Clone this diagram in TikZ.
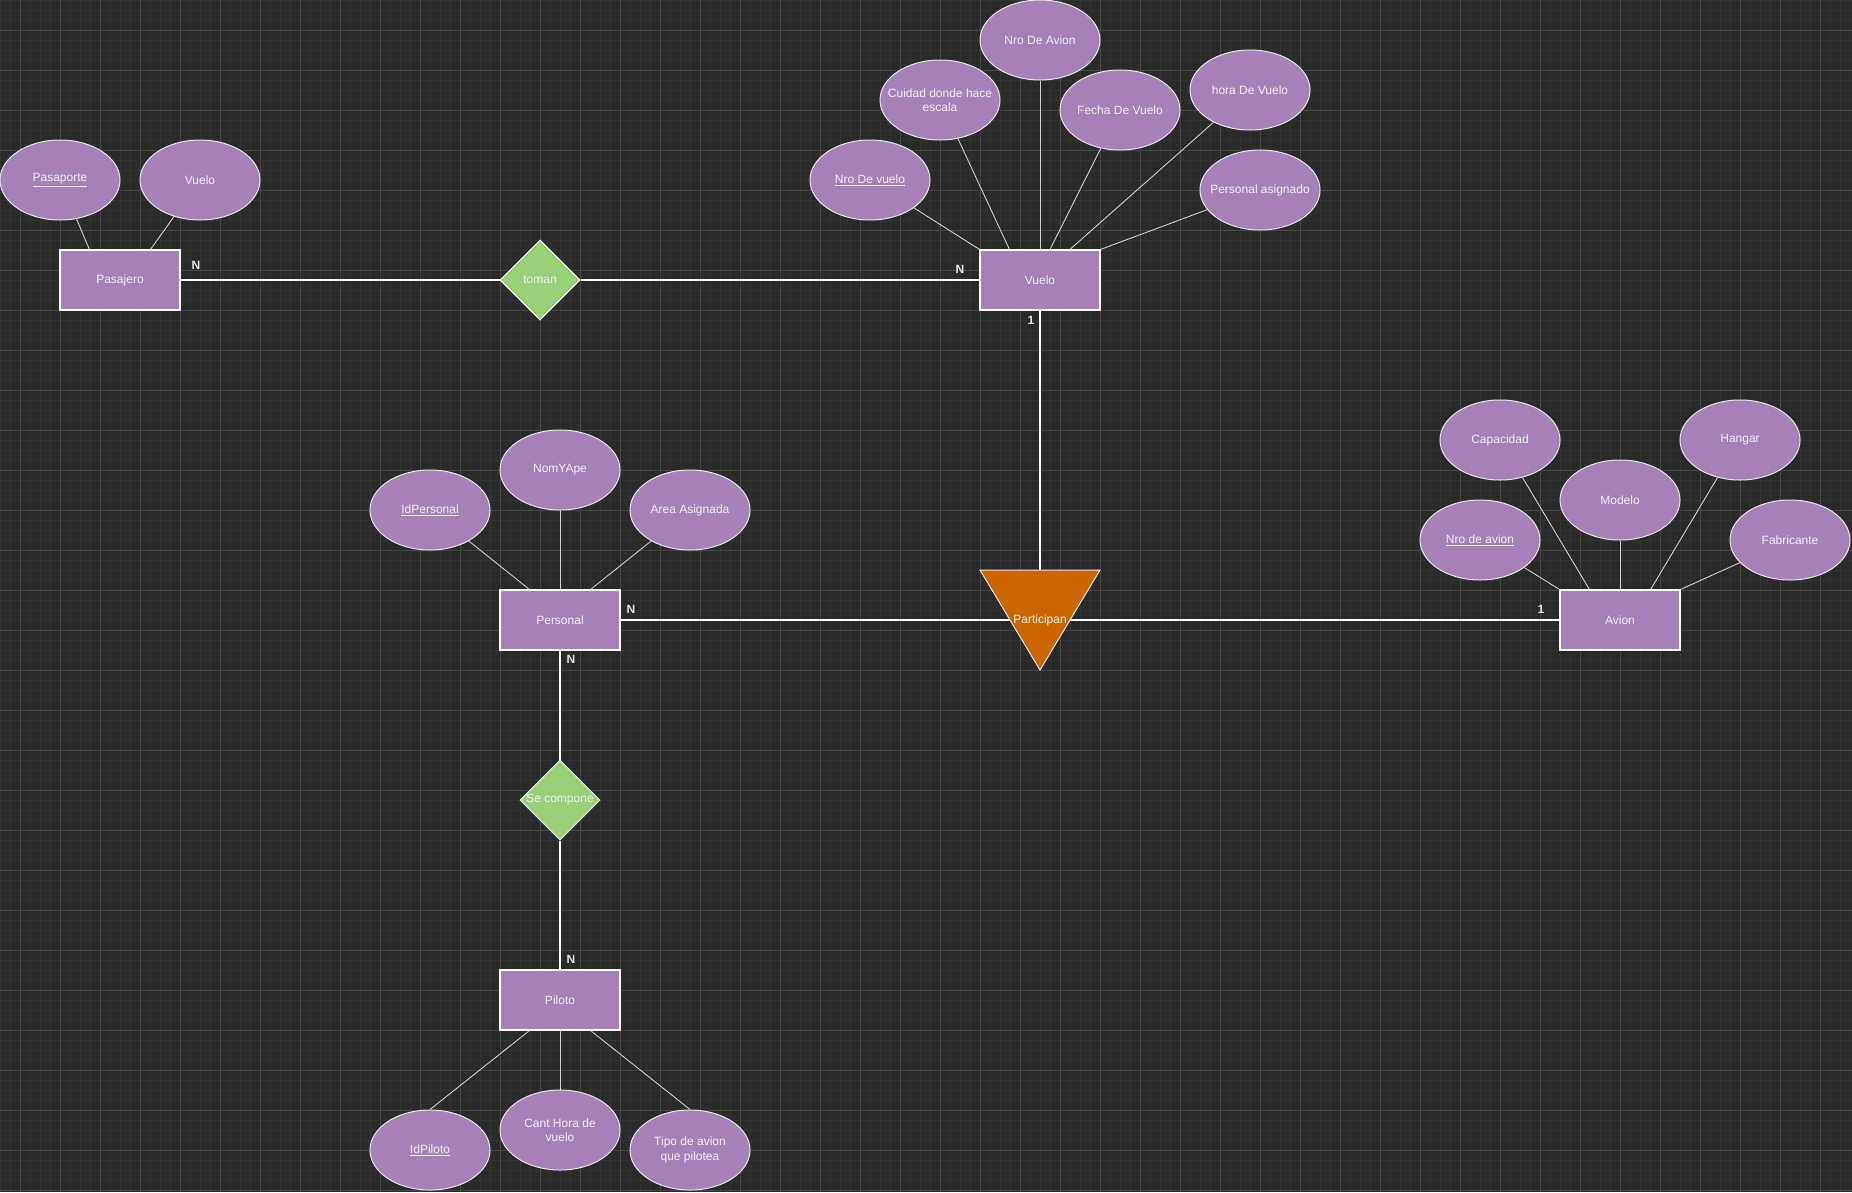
\documentclass[tikz,border=0pt]{standalone}
\usepackage{fontspec}
\setmainfont{Liberation Sans}
\usetikzlibrary{shapes.geometric,calc}
\definecolor{bgc}{HTML}{2A2A2A}
\definecolor{gminor}{HTML}{323232}
\definecolor{gmajor}{HTML}{474747}
\definecolor{purp}{HTML}{A680B8}
\definecolor{grn}{HTML}{97D077}
\definecolor{org}{HTML}{CC6600}
\definecolor{txt}{HTML}{F2F2F2}
\definecolor{cardc}{HTML}{E6E6E6}
\definecolor{attrline}{HTML}{D0D0D0}
\definecolor{attrborder}{HTML}{E8E8E8}
\pgfdeclarelayer{gridlayer}
\pgfdeclarelayer{linelayer}
\pgfsetlayers{gridlayer,linelayer,main}
\begin{document}
\begin{tikzpicture}[x=1pt,y=-1pt,
  every node/.style={font=\fontsize{12}{14.5}\selectfont, text=txt},
  entity/.style={rectangle, draw=white, line width=1.2pt, fill=purp, minimum width=120pt, minimum height=60pt, inner sep=0pt},
  attr/.style={ellipse, draw=attrborder, line width=1pt, fill=purp, minimum width=120pt, minimum height=80pt, inner sep=0pt},
  lbl/.style={align=center, inner sep=0pt, text=txt, font=\fontsize{12}{14.5}\selectfont},
  relshape/.style={diamond, draw=white, line width=1pt, fill=grn, minimum width=80pt, minimum height=80pt, inner sep=0pt, aspect=1},
  card/.style={font=\fontsize{12}{14}\selectfont\bfseries, text=cardc, inner sep=0pt},
  conn/.style={draw=white, line width=1.2pt},
  aline/.style={draw=attrline, line width=0.9pt},
]
\useasboundingbox (0,0) rectangle (1852,1192);

% entities
\node[entity] (pasajero) at (120,280) {Pasajero};
\node[entity] (vuelo) at (1040,280) {Vuelo};
\node[entity] (personal) at (560,620) {Personal};
\node[entity] (avion) at (1620,620) {Avion};
\node[entity] (piloto) at (560,1000) {Piloto};

% relationships
\node[relshape, label={[lbl]center:toman}] (toman) at (540,280) {};
\node[relshape, label={[lbl]center:Se compone}] (secompone) at (560,800) {};

% attributes
\node[attr, label={[lbl]center:{\underline{Pasaporte}}}] (pasaporte) at (60,180) {};
\node[attr, label={[lbl]center:{Vuelo}}] (vueloattr) at (200,180) {};

\node[attr, label={[lbl]center:{Nro De Avion}}] (nroavion) at (1040,40) {};
\node[attr, label={[lbl]center:{Cuidad donde hace\\escala}}] (ciudad) at (940,100) {};
\node[attr, label={[lbl]center:{\underline{Nro De vuelo}}}] (nrovuelo) at (870,180) {};
\node[attr, label={[lbl]center:{Fecha De Vuelo}}] (fecha) at (1120,110) {};
\node[attr, label={[lbl]center:{hora De Vuelo}}] (hora) at (1250,90) {};
\node[attr, label={[lbl]center:{Personal asignado}}] (persasig) at (1260,190) {};

\node[attr, label={[lbl]center:{\underline{IdPersonal}}}] (idpersonal) at (430,510) {};
\node[attr, label={[lbl]center:{NomYApe}}] (nomyape) at (560,470) {};
\node[attr, label={[lbl]center:{Area Asignada}}] (area) at (690,510) {};

\node[attr, label={[lbl]center:{Capacidad}}] (capacidad) at (1500,440) {};
\node[attr, label={[lbl]center:{Modelo}}] (modelo) at (1620,500) {};
\node[attr, label={[lbl]center:{Hangar}}] (hangar) at (1740,440) {};
\node[attr, label={[lbl]center:{\underline{Nro de avion}}}] (nroavionA) at (1480,540) {};
\node[attr, label={[lbl]center:{Fabricante}}] (fabricante) at (1790,540) {};

\node[attr, label={[lbl]center:{\underline{IdPiloto}}}] (idpiloto) at (430,1150) {};
\node[attr, label={[lbl]center:{Cant Hora de\\vuelo}}] (canthora) at (560,1130) {};
\node[attr, label={[lbl]center:{Tipo de avion\\que pilotea}}] (tipo) at (690,1150) {};

% triangle relationship
\coordinate (parttop) at (1040,570);
\filldraw[fill=org, draw=attrborder, line width=1pt] (980,570) -- (1100,570) -- (1040,670) -- cycle;
\node[lbl] (participan) at (1040,620) {Participan};

% cardinalities
\node[card] (c1) at (196,265) {N};
\node[card] (c2) at (960,269) {N};
\node[card] (c3) at (1031,320) {1};
\node[card] (c4) at (631,609) {N};
\node[card] (c5) at (571,659) {N};
\node[card] (c6) at (1541,609) {1};
\node[card] (c7) at (571,959) {N};

\begin{pgfonlayer}{linelayer}
\draw[conn] (pasajero.east) -- (toman.west);
\draw[conn] (toman.east) -- (vuelo.west);
\draw[conn] (vuelo.south) -- (parttop);
\draw[conn] (personal.east) -- (avion.west);
\draw[conn] (personal.south) -- (secompone.north);
\draw[conn] (secompone.south) -- (piloto.north);

\draw[aline] (pasaporte) -- ($(pasajero.north west)+(30,0)$);
\draw[aline] (vueloattr) -- ($(pasajero.north east)+(-30,0)$);
\draw[aline] (nrovuelo) -- (vuelo.north west);
\draw[aline] (ciudad) -- ($(vuelo.north west)+(30,0)$);
\draw[aline] (nroavion) -- (vuelo.north);
\draw[aline] (fecha) -- ($(vuelo.north)+(10,0)$);
\draw[aline] (hora) -- ($(vuelo.north)+(30,0)$);
\draw[aline] (persasig) -- (vuelo.north east);
\draw[aline] (idpersonal) -- ($(personal.north west)+(30,0)$);
\draw[aline] (nomyape) -- (personal.north);
\draw[aline] (area) -- ($(personal.north east)+(-30,0)$);
\draw[aline] (nroavionA) -- (avion.north west);
\draw[aline] (capacidad) -- ($(avion.north west)+(30,0)$);
\draw[aline] (modelo) -- (avion.north);
\draw[aline] (hangar) -- ($(avion.north east)+(-30,0)$);
\draw[aline] (fabricante) -- (avion.north east);
\draw[aline] (idpiloto.north) -- ($(piloto.south west)+(30,0)$);
\draw[aline] (canthora) -- (piloto.south);
\draw[aline] (tipo.north) -- ($(piloto.south east)+(-30,0)$);
\end{pgfonlayer}

\begin{pgfonlayer}{gridlayer}
\fill[bgc] (0,0) rectangle (1852,1192);
\foreach \x in {0,10,...,1850} \draw[gminor, line width=1pt] (\x,0) -- (\x,1192);
\foreach \y in {0,10,...,1190} \draw[gminor, line width=1pt] (0,\y) -- (1852,\y);
\foreach \x in {20,60,...,1850} \draw[gmajor, line width=1pt] (\x,0) -- (\x,1192);
\foreach \y in {30,70,...,1190} \draw[gmajor, line width=1pt] (0,\y) -- (1852,\y);
\end{pgfonlayer}
\end{tikzpicture}
\end{document}
